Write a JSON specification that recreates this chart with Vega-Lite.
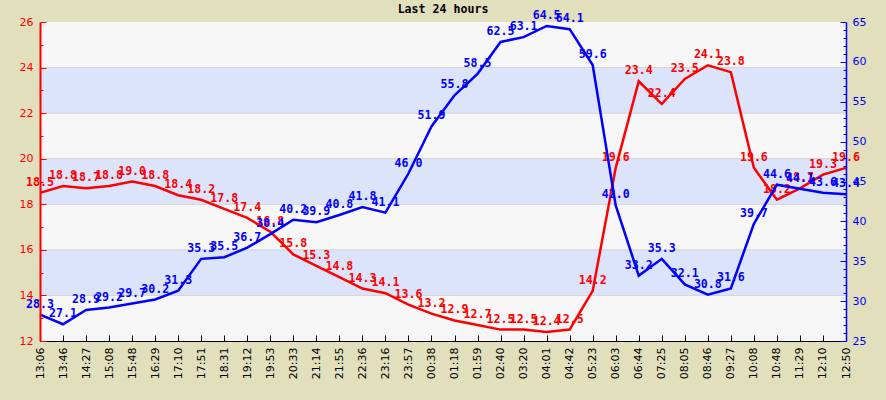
{
  "$schema": "https://vega.github.io/schema/vega-lite/v6.json",
  "width": 806,
  "height": 319,
  "autosize": "none",
  "padding": {"left": 40, "top": 22, "right": 40, "bottom": 59},
  "background": "#E2DFBC",
  "config": {"view": {"stroke": null, "fill": "#F7F7F7"}, "font": "DejaVu Sans"},
  "title": {"text": "Last 24 hours", "font": "DejaVu Sans Mono", "fontSize": 11.6, "fontWeight": "bold", "color": "#000000", "offset": -6, "anchor": "middle"},
  "data": {"values": [
    {"t": "13:06", "temp": 18.5, "hum": 28.3},
    {"t": "13:46", "temp": 18.8, "hum": 27.1},
    {"t": "14:27", "temp": 18.7, "hum": 28.9},
    {"t": "15:08", "temp": 18.8, "hum": 29.2},
    {"t": "15:48", "temp": 19.0, "hum": 29.7},
    {"t": "16:29", "temp": 18.8, "hum": 30.2},
    {"t": "17:10", "temp": 18.4, "hum": 31.3},
    {"t": "17:51", "temp": 18.2, "hum": 35.3},
    {"t": "18:31", "temp": 17.8, "hum": 35.5},
    {"t": "19:12", "temp": 17.4, "hum": 36.7},
    {"t": "19:53", "temp": 16.8, "hum": 38.4},
    {"t": "20:33", "temp": 15.8, "hum": 40.2},
    {"t": "21:14", "temp": 15.3, "hum": 39.9},
    {"t": "21:55", "temp": 14.8, "hum": 40.8},
    {"t": "22:36", "temp": 14.3, "hum": 41.8},
    {"t": "23:16", "temp": 14.1, "hum": 41.1},
    {"t": "23:57", "temp": 13.6, "hum": 46.0},
    {"t": "00:38", "temp": 13.2, "hum": 51.9},
    {"t": "01:18", "temp": 12.9, "hum": 55.8},
    {"t": "01:59", "temp": 12.7, "hum": 58.5},
    {"t": "02:40", "temp": 12.5, "hum": 62.5},
    {"t": "03:20", "temp": 12.5, "hum": 63.1},
    {"t": "04:01", "temp": 12.4, "hum": 64.5},
    {"t": "04:42", "temp": 12.5, "hum": 64.1},
    {"t": "05:23", "temp": 14.2, "hum": 59.6},
    {"t": "06:03", "temp": 19.6, "hum": 42.0},
    {"t": "06:44", "temp": 23.4, "hum": 33.2},
    {"t": "07:25", "temp": 22.4, "hum": 35.3},
    {"t": "08:05", "temp": 23.5, "hum": 32.1},
    {"t": "08:46", "temp": 24.1, "hum": 30.8},
    {"t": "09:27", "temp": 23.8, "hum": 31.6},
    {"t": "10:08", "temp": 19.6, "hum": 39.7},
    {"t": "10:48", "temp": 18.2, "hum": 44.6},
    {"t": "11:29", "temp": 18.7, "hum": 44.1},
    {"t": "12:10", "temp": 19.3, "hum": 43.6},
    {"t": "12:50", "temp": 19.6, "hum": 43.4}
  ]},
  "layer": [
    {
      "layer": [
        {
          "data": {"values": [{"lo": 14, "hi": 16}, {"lo": 18, "hi": 20}, {"lo": 22, "hi": 24}]},
          "mark": {"type": "rect", "color": "#DCE4FC", "stroke": "#D4D4D4", "strokeWidth": 1},
          "encoding": {
            "y": {"field": "lo", "type": "quantitative", "scale": {"domain": [12, 26], "nice": false, "zero": false},
              "axis": {"title": null, "zindex": 1, "tickCount": 100, "format": "d", "labelOverlap": false, "values": [12,13,14,15,16,17,18,19,20,21,22,23,24,25,26],
                "labelExpr": "datum.value % 2 == 0 ? datum.label : ''",
                "labelColor": "#FF0000", "labelFont": "DejaVu Sans", "labelFontSize": 11, "labelPadding": 13,
                "domainColor": "#FF0000", "domainWidth": 2, "tickColor": "#FF0000",
                "tickSize": {"condition": {"test": "datum.value % 2 == 0", "value": -6}, "value": -3},
                "grid": false}},
            "y2": {"field": "hi"}
          }
        },
        {
          "mark": {"type": "line", "color": "#FF0000", "strokeWidth": 2.5},
          "encoding": {
            "x": {"field": "t", "type": "ordinal", "sort": null, "scale": {"type": "point", "padding": 0},
              "axis": {"title": null, "zindex": 1, "labelOverlap": false, "labelAngle": -90, "labelColor": "#000000", "labelFont": "DejaVu Sans", "labelFontSize": 11,
                "labelPadding": 12, "tickSize": -6, "tickColor": "#000000", "domainColor": "#000000", "domainWidth": 1}},
            "y": {"field": "temp", "type": "quantitative"}
          }
        },
        {
          "mark": {"type": "text", "color": "#FF0000", "font": "DejaVu Sans Mono", "fontWeight": "bold", "fontSize": 11.6, "dy": -10, "baseline": "middle"},
          "encoding": {
            "x": {"field": "t", "type": "ordinal", "sort": null},
            "y": {"field": "temp", "type": "quantitative"},
            "text": {"field": "temp", "type": "quantitative", "format": ".1f"}
          }
        }
      ]
    },
    {
      "layer": [
        {
          "mark": {"type": "line", "color": "#0000FF", "strokeWidth": 2.5},
          "encoding": {
            "x": {"field": "t", "type": "ordinal", "sort": null},
            "y": {"field": "hum", "type": "quantitative", "scale": {"domain": [25, 65], "nice": false, "zero": false},
              "axis": {"title": null, "zindex": 1, "tickCount": 100, "format": "d", "labelOverlap": false, "orient": "right", "values": [25,26,27,28,29,30,31,32,33,34,35,36,37,38,39,40,41,42,43,44,45,46,47,48,49,50,51,52,53,54,55,56,57,58,59,60,61,62,63,64,65],
                "labelExpr": "datum.value % 5 == 0 ? datum.label : ''",
                "labelColor": "#0000FF", "labelFont": "DejaVu Sans", "labelFontSize": 11, "labelPadding": 12,
                "domainColor": "#0000FF", "domainWidth": 1.5, "tickColor": "#0000FF",
                "tickSize": {"condition": {"test": "datum.value % 5 == 0", "value": -6}, "value": -3},
                "grid": false}}
          }
        },
        {
          "mark": {"type": "text", "color": "#0000FF", "font": "DejaVu Sans Mono", "fontWeight": "bold", "fontSize": 11.6, "dy": -10, "baseline": "middle"},
          "encoding": {
            "x": {"field": "t", "type": "ordinal", "sort": null},
            "y": {"field": "hum", "type": "quantitative"},
            "text": {"field": "hum", "type": "quantitative", "format": ".1f"}
          }
        }
      ]
    }
  ],
  "resolve": {"scale": {"y": "independent"}}
}
